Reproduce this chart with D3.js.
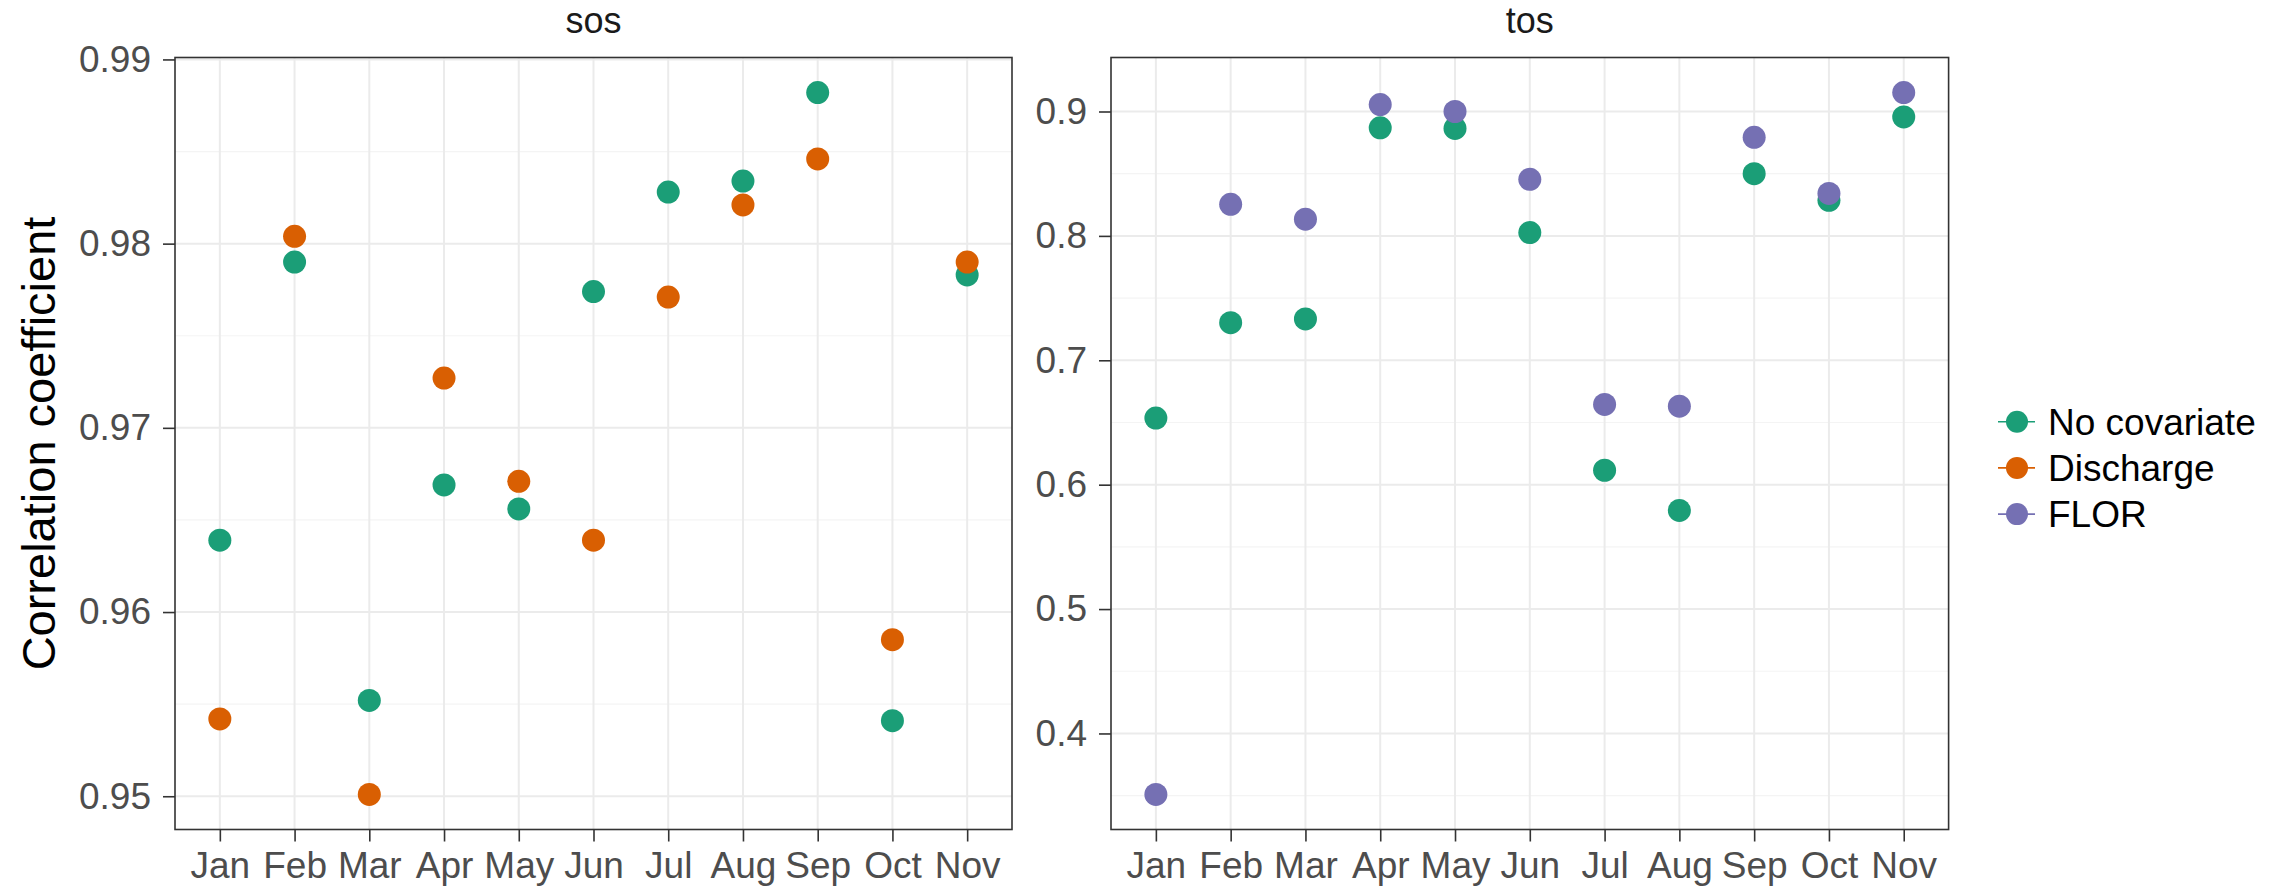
<!DOCTYPE html>
<html>
<head>
<meta charset="utf-8">
<script src="https://cdn.jsdelivr.net/npm/d3@7"></script>
<style>
  html, body { margin: 0; padding: 0; background: #ffffff; }
  svg { display: block; font-family: "Liberation Sans", Arial, Helvetica, sans-serif; }
</style>
</head>
<body>
<svg id="chart" width="2292" height="891"></svg>
<script>
// Months on the x axis
const months = ["Jan", "Feb", "Mar", "Apr", "May", "Jun", "Jul", "Aug", "Sep", "Oct", "Nov"];

// Correlation coefficients per month, salinity (sos) panel
const sosNoCovariate = [0.9639, 0.9790, 0.9552, 0.9669, 0.9656, 0.9774, 0.9828, 0.9834, 0.9882, 0.9541, 0.9783];
const sosDischarge   = [0.9542, 0.9804, 0.9501, 0.9727, 0.9671, 0.9639, 0.9771, 0.9821, 0.9846, 0.9585, 0.9790];

// Correlation coefficients per month, temperature (tos) panel
const tosNoCovariate = [0.6535, 0.7302, 0.7332, 0.8869, 0.8864, 0.8027, 0.6116, 0.5793, 0.8500, 0.8286, 0.8956];
const tosFLOR        = [0.3510, 0.8254, 0.8134, 0.9056, 0.9000, 0.8455, 0.6645, 0.6631, 0.8792, 0.8341, 0.9152];

// Tick labels
const sosTicks = [0.95, 0.96, 0.97, 0.98, 0.99];
const sosMinor = [0.955, 0.965, 0.975, 0.985];
const tosTicks = [0.4, 0.5, 0.6, 0.7, 0.8, 0.9];
const tosMinor = [0.35, 0.45, 0.55, 0.65, 0.75, 0.85];

const seriesNames = ["No covariate", "Discharge", "FLOR"];
const seriesColors = ["#1B9E77", "#D95F02", "#7570B3"];
const color = d3.scaleOrdinal().domain(seriesNames).range(seriesColors);

const svg = d3.select("#chart");

const panelTop = 57.5, panelBottom = 829.5;
const panels = [
  {
    title: "sos", left: 175, right: 1012,
    series: [
      { name: "No covariate", values: sosNoCovariate },
      { name: "Discharge", values: sosDischarge }
    ],
    ticks: sosTicks, minor: sosMinor, fmt: d3.format(".2f")
  },
  {
    title: "tos", left: 1111, right: 1948.6,
    series: [
      { name: "No covariate", values: tosNoCovariate },
      { name: "FLOR", values: tosFLOR }
    ],
    ticks: tosTicks, minor: tosMinor, fmt: d3.format(".1f")
  }
];

const axisGrey = "#4D4D4D";
const darkLine = "#333333";

panels.forEach(p => {
  const all = p.series.flatMap(s => s.values);
  const lo = d3.min(all), hi = d3.max(all);
  const pad = (hi - lo) * 0.05;

  const x = d3.scalePoint().domain(months).range([p.left, p.right]).padding(0.6);
  const y = d3.scaleLinear().domain([lo - pad, hi + pad]).range([panelBottom, panelTop]);

  const g = svg.append("g");

  // panel background
  g.append("rect")
    .attr("x", p.left).attr("y", panelTop)
    .attr("width", p.right - p.left).attr("height", panelBottom - panelTop)
    .attr("fill", "#ffffff");

  // minor horizontal grid
  g.selectAll(".minor").data(p.minor).join("line")
    .attr("x1", p.left).attr("x2", p.right)
    .attr("y1", d => y(d)).attr("y2", d => y(d))
    .attr("stroke", "#F4F4F4").attr("stroke-width", 1.2);

  // major horizontal grid
  g.selectAll(".major").data(p.ticks).join("line")
    .attr("x1", p.left).attr("x2", p.right)
    .attr("y1", d => y(d)).attr("y2", d => y(d))
    .attr("stroke", "#EBEBEB").attr("stroke-width", 2);

  // vertical grid at each month
  g.selectAll(".vgrid").data(months).join("line")
    .attr("x1", d => x(d)).attr("x2", d => x(d))
    .attr("y1", panelTop).attr("y2", panelBottom)
    .attr("stroke", "#EBEBEB").attr("stroke-width", 2);

  // points, drawn series by series
  p.series.forEach(s => {
    g.append("g").selectAll("circle")
      .data(s.values.map((v, i) => ({ m: months[i], v })))
      .join("circle")
      .attr("cx", d => x(d.m))
      .attr("cy", d => y(d.v))
      .attr("r", 11.5)
      .attr("fill", color(s.name));
  });

  // panel border
  g.append("rect")
    .attr("x", p.left).attr("y", panelTop)
    .attr("width", p.right - p.left).attr("height", panelBottom - panelTop)
    .attr("fill", "none").attr("stroke", darkLine).attr("stroke-width", 1.6);

  // y axis
  const yAxis = g.append("g")
    .attr("transform", `translate(${p.left},0)`)
    .call(d3.axisLeft(y).tickValues(p.ticks).tickFormat(p.fmt).tickSize(12).tickPadding(12));
  yAxis.select(".domain").remove();
  yAxis.selectAll(".tick line").attr("stroke", darkLine).attr("stroke-width", 1.6);
  yAxis.selectAll(".tick text")
    .attr("fill", axisGrey).attr("font-size", 37)
    .attr("font-family", "Liberation Sans, Arial, sans-serif");

  // x axis
  const xAxis = g.append("g")
    .attr("transform", `translate(0,${panelBottom})`)
    .call(d3.axisBottom(x).tickSize(12).tickPadding(10));
  xAxis.select(".domain").remove();
  xAxis.selectAll(".tick line").attr("stroke", darkLine).attr("stroke-width", 1.6);
  xAxis.selectAll(".tick text")
    .attr("fill", axisGrey).attr("font-size", 37)
    .attr("font-family", "Liberation Sans, Arial, sans-serif");

  // facet title
  g.append("text")
    .attr("x", (p.left + p.right) / 2).attr("y", 33)
    .attr("text-anchor", "middle")
    .attr("font-size", 36).attr("fill", "#1A1A1A")
    .text(p.title);
});

// y axis title
svg.append("text")
  .attr("transform", `translate(55,${(panelTop + panelBottom) / 2}) rotate(-90)`)
  .attr("text-anchor", "middle")
  .attr("font-size", 47).attr("fill", "#000000")
  .text("Correlation coefficient");

// legend
const legend = svg.append("g").attr("transform", "translate(2017,421.7)");
const rows = legend.selectAll("g").data(seriesNames).join("g")
  .attr("transform", (d, i) => `translate(0,${i * 46.2})`);
rows.append("line")
  .attr("x1", -19).attr("x2", 18).attr("y1", 0).attr("y2", 0)
  .attr("stroke", d => color(d)).attr("stroke-width", 1.6);
rows.append("circle")
  .attr("r", 11).attr("fill", d => color(d));
rows.append("text")
  .attr("x", 31).attr("y", 0).attr("dy", "0.36em")
  .attr("font-size", 37).attr("fill", "#000000")
  .text(d => d);
</script>
</body>
</html>
